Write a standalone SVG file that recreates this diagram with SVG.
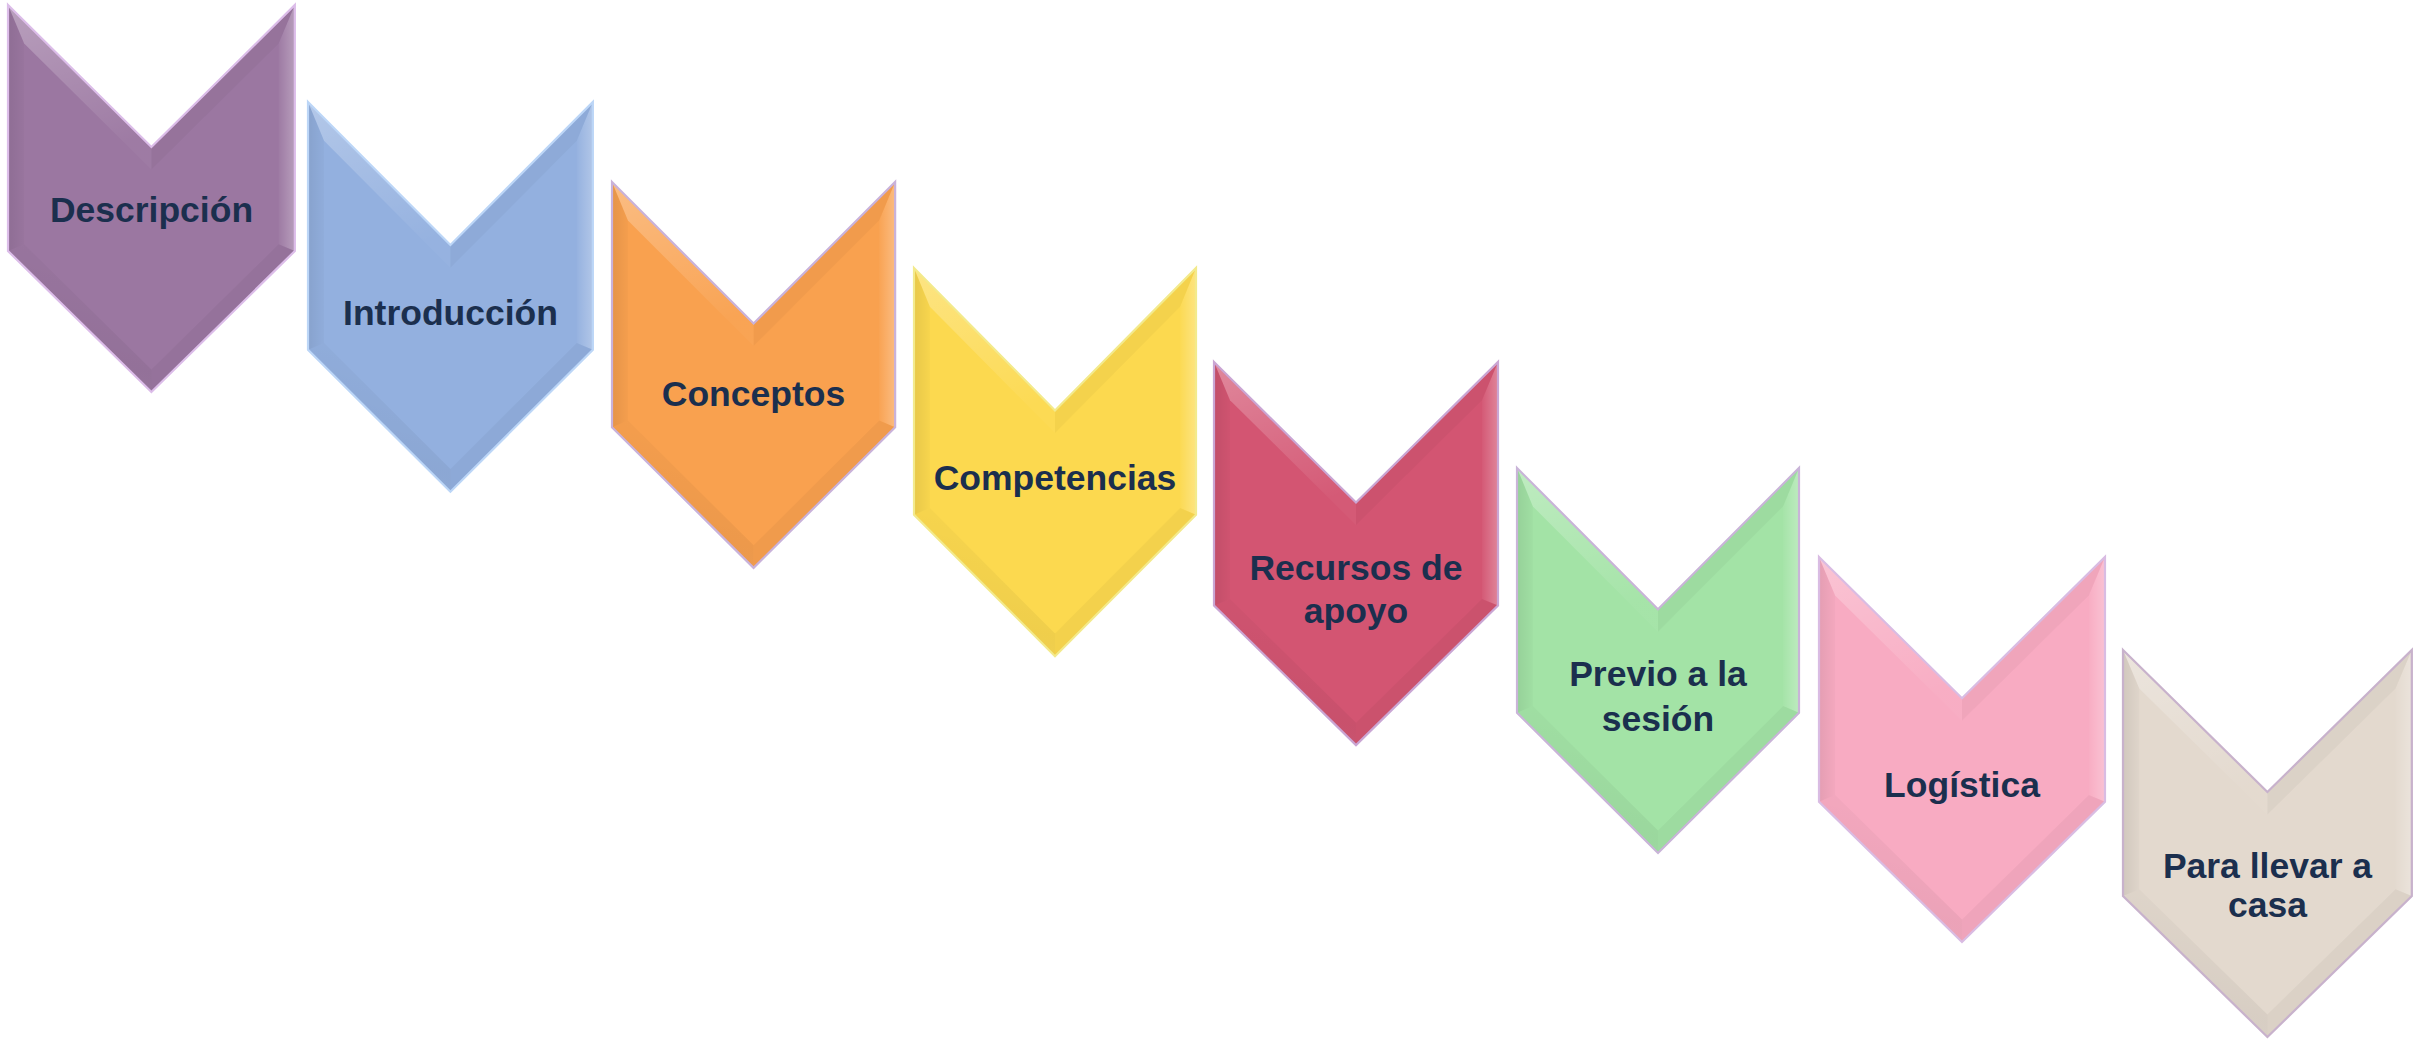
<svg xmlns="http://www.w3.org/2000/svg" xmlns:xlink="http://www.w3.org/1999/xlink" width="2420" height="1045" viewBox="0 0 2420 1045">
  <style>
    .lbl { font-family: "Liberation Sans", Arial, sans-serif; font-weight: bold; font-size: 35.5px; fill: #1b2f4e; text-anchor: middle; }
    .edge { fill: none; stroke-width: 2.2; stroke-linejoin: miter; }
    .c1 { fill: #9b77a1; } .s1 { stroke: #dcbde9; }
    .c2 { fill: #93b0df; } .s2 { stroke: #bcd6f7; }
    .c3 { fill: #f9a14f; } .s3 { stroke: #c9b2da; }
    .c4 { fill: #fcd94f; } .s4 { stroke: #f3ea8c; }
    .c5 { fill: #d35572; } .s5 { stroke: #caa6d4; }
    .c6 { fill: #a3e3a6; } .s6 { stroke: #c9b4d8; }
    .c7 { fill: #f8abc2; } .s7 { stroke: #d9bce3; }
    .c8 { fill: #e3d9ce; } .s8 { stroke: #c8b2cc; }
  </style>
  <defs>
    <polygon id="shape" points="0,0 142,142 284,0 284,246 142,387 0,246"/>
    <linearGradient id="gTL" x1="0" y1="0" x2="0.35" y2="1">
      <stop offset="0" stop-color="#ffffff" stop-opacity="0.3"/>
      <stop offset="1" stop-color="#ffffff" stop-opacity="0.03"/>
    </linearGradient>
    <linearGradient id="gR" x1="1" y1="0" x2="0" y2="0">
      <stop offset="0" stop-color="#ffffff" stop-opacity="0.28"/>
      <stop offset="1" stop-color="#ffffff" stop-opacity="0.03"/>
    </linearGradient>
    <linearGradient id="gL" x1="0" y1="0" x2="1" y2="0">
      <stop offset="0" stop-color="#000000" stop-opacity="0.08"/>
      <stop offset="1" stop-color="#000000" stop-opacity="0.02"/>
    </linearGradient>
    <linearGradient id="gBL" x1="0" y1="1" x2="0.3" y2="0">
      <stop offset="0" stop-color="#ffffff" stop-opacity="0.12"/>
      <stop offset="0.4" stop-color="#000000" stop-opacity="0.05"/>
      <stop offset="1" stop-color="#000000" stop-opacity="0.02"/>
    </linearGradient>
    <g id="bevel">
      <polygon points="0,0 142,142 142,164.6 16,38.6" fill="url(#gTL)"/>
      <polygon points="142,142 284,0 268,38.6 142,164.6" fill="#000000" fill-opacity="0.03"/>
      <polygon points="284,0 284,246 268,239.3 268,38.6" fill="url(#gR)"/>
      <polygon points="284,246 142,387 142,364.4 268,239.3" fill="#000000" fill-opacity="0.035"/>
      <polygon points="142,387 0,246 16,239.3 142,364.4" fill="url(#gBL)"/>
      <polygon points="0,246 0,0 16,38.6 16,239.3" fill="url(#gL)"/>
    </g>
  </defs>
  <rect x="0" y="0" width="2420" height="1045" fill="#ffffff"/>
  <g id="connectors"/>

  <g id="n1">
    <g transform="translate(8,5) scale(1.01,1.0)">
      <use xlink:href="#shape" class="c1"/>
      <use xlink:href="#bevel"/>
      <use xlink:href="#shape" class="edge s1"/>
    </g>
    <text class="lbl" x="151.5" y="222">Descripción</text>
  </g>

  <g id="n2">
    <g transform="translate(308,102) scale(1.003,1.007)">
      <use xlink:href="#shape" class="c2"/>
      <use xlink:href="#bevel"/>
      <use xlink:href="#shape" class="edge s2"/>
    </g>
    <text class="lbl" x="450.5" y="325">Introducción</text>
  </g>

  <g id="n3">
    <g transform="translate(612,182) scale(0.997,0.997)">
      <use xlink:href="#shape" class="c3"/>
      <use xlink:href="#bevel"/>
      <use xlink:href="#shape" class="edge s3"/>
    </g>
    <text class="lbl" x="753.5" y="406">Conceptos</text>
  </g>

  <g id="n4">
    <g transform="translate(914,268) scale(0.993,1.003)">
      <use xlink:href="#shape" class="c4"/>
      <use xlink:href="#bevel"/>
      <use xlink:href="#shape" class="edge s4"/>
    </g>
    <text class="lbl" x="1055" y="490">Competencias</text>
  </g>

  <g id="n5">
    <g transform="translate(1214,362) scale(1.0,0.99)">
      <use xlink:href="#shape" class="c5"/>
      <use xlink:href="#bevel"/>
      <use xlink:href="#shape" class="edge s5"/>
    </g>
    <text class="lbl" x="1356" y="580">Recursos de</text>
    <text class="lbl" x="1356" y="623">apoyo</text>
  </g>

  <g id="n6">
    <g transform="translate(1517,468) scale(0.993,0.995)">
      <use xlink:href="#shape" class="c6"/>
      <use xlink:href="#bevel"/>
      <use xlink:href="#shape" class="edge s6"/>
    </g>
    <text class="lbl" x="1658" y="686">Previo a la</text>
    <text class="lbl" x="1658" y="731">sesión</text>
  </g>

  <g id="n7">
    <g transform="translate(1819,557) scale(1.007,0.995)">
      <use xlink:href="#shape" class="c7"/>
      <use xlink:href="#bevel"/>
      <use xlink:href="#shape" class="edge s7"/>
    </g>
    <text class="lbl" x="1962" y="797">Logística</text>
  </g>

  <g id="n8">
    <g transform="translate(2123,650) scale(1.017,1.0)">
      <use xlink:href="#shape" class="c8"/>
      <use xlink:href="#bevel"/>
      <use xlink:href="#shape" class="edge s8"/>
    </g>
    <text class="lbl" x="2267.5" y="878">Para llevar a</text>
    <text class="lbl" x="2267.5" y="917">casa</text>
  </g>
</svg>
